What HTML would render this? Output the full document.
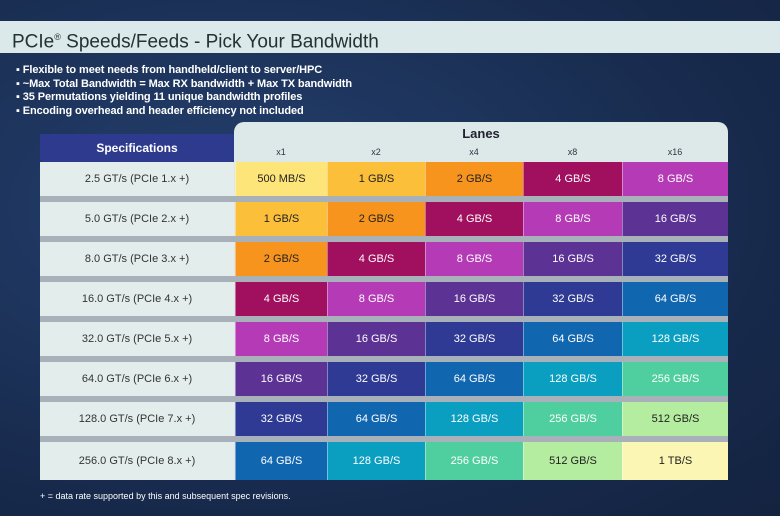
<!DOCTYPE html><html><head><style>
*{margin:0;padding:0;box-sizing:border-box}
body{width:780px;height:516px;overflow:hidden;background:radial-gradient(ellipse at 30% 40%,#24406e,#17294b 70%,#132340);font-family:"Liberation Sans",sans-serif;position:relative}
.title{position:absolute;left:0;top:21px;width:780px;height:32px;background:#dbe9ea;color:#233;font-size:19px;padding-left:12px;line-height:32px}
.b{position:absolute;left:16px;top:64px;color:#fff;font-weight:bold;font-size:11px;line-height:13.5px;letter-spacing:-0.1px}
.panel{position:absolute;left:234px;top:122px;width:494px;height:358px;background:#dde9e8;border-radius:10px 10px 0 0}
.spec{position:absolute;left:40px;top:134px;width:194px;height:29px;background:#2e3a8e;color:#fff;font-weight:bold;font-size:12px;text-align:center;line-height:29px;border-radius:0 0 4px 4px}
.lanes{position:absolute;left:234px;top:126px;width:494px;text-align:center;font-weight:bold;font-size:13px;color:#223}
.h{position:absolute;top:147px;font-size:9px;color:#334;text-align:center}
.c{position:absolute;font-size:11px;text-align:center;display:flex;align-items:center;justify-content:center;color:#fff}
.d{color:#222}
.g{position:absolute;left:40px;width:688px;background:#a8b0b9}
.foot{position:absolute;left:40px;top:491px;color:#fff;font-size:9px}
</style></head><body>
<div class="title">PCIe<sup style="font-size:9px">®</sup> Speeds/Feeds - Pick Your Bandwidth</div>
<div class="b">▪ Flexible to meet needs from handheld/client to server/HPC<br>▪ ~Max Total Bandwidth = Max RX bandwidth + Max TX bandwidth<br>▪ 35 Permutations yielding 11 unique bandwidth profiles<br>▪ Encoding overhead and header efficiency not included</div>
<div class="panel"></div>
<div class="spec">Specifications</div>
<div class="lanes">Lanes</div>
<div id="t"></div>
<div class="foot">+ = data rate supported by this and subsequent spec revisions.</div>
<script>
var cols=[235,327,425,523,622,728],names=["x1","x2","x4","x8","x16"];
var col={"500 MB/S":"#fde57a","1 GB/S":"#fbbf3a","2 GB/S":"#f7941d","4 GB/S":"#a0105e","8 GB/S":"#b43bb5","16 GB/S":"#5d3295","32 GB/S":"#2e3a93","64 GB/S":"#1166b0","128 GB/S":"#0a9fc0","256 GB/S":"#4fcf9f","512 GB/S":"#b5eda0","1 TB/S":"#fbf6b4"};
var dark={"500 MB/S":1,"1 GB/S":1,"2 GB/S":1,"512 GB/S":1,"1 TB/S":1};
var vals=Object.keys(col);
var specs=["2.5 GT/s (PCIe 1.x +)","5.0 GT/s (PCIe 2.x +)","8.0 GT/s (PCIe 3.x +)","16.0 GT/s (PCIe 4.x +)","32.0 GT/s (PCIe 5.x +)","64.0 GT/s (PCIe 6.x +)","128.0 GT/s (PCIe 7.x +)","256.0 GT/s (PCIe 8.x +)"];
var h="";
for(var j=0;j<5;j++)h+='<div class="h" style="left:'+cols[j]+'px;width:'+(cols[j+1]-cols[j])+'px">'+names[j]+'</div>';
for(var i=0;i<8;i++){var y=162+i*40,hh=34+(i==7?4:0);
if(i>0)h+='<div class="g" style="top:'+(y-6)+'px;height:6px"></div>';
h+='<div class="c d" style="left:40px;top:'+y+'px;width:194px;height:'+hh+'px;background:#e3eeec;color:#333">'+specs[i]+'</div>';
for(var j=0;j<5;j++){var v=vals[i+j];h+='<div class="c'+(dark[v]?' d':'')+'" style="left:'+cols[j]+'px;top:'+y+'px;width:'+(cols[j+1]-cols[j])+'px;height:'+hh+'px;background:'+col[v]+';border-left:1px solid rgba(255,255,255,.4)">'+v+'</div>';}}
document.getElementById("t").innerHTML=h;
</script>
</body></html>
